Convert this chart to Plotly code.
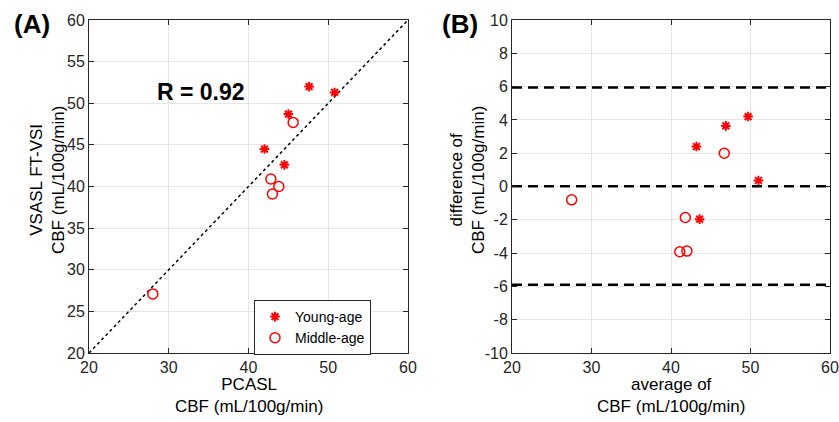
import plotly.graph_objects as go

# ---- data ----
young_pcasl = [47.6, 50.8, 45.0, 42.0, 44.5]
young_vsasl = [52.0, 51.3, 48.7, 44.5, 42.6]
middle_pcasl = [45.6, 42.8, 43.8, 43.0, 28.0]
middle_vsasl = [47.7, 40.9, 40.0, 39.1, 27.1]

young_avg = [49.7, 51.0, 46.9, 43.2, 43.6]
young_diff = [4.2, 0.36, 3.64, 2.4, -1.96]
middle_avg = [46.7, 41.8, 42.0, 41.1, 27.5]
middle_diff = [2.0, -1.86, -3.88, -3.92, -0.8]

identity_x = [20, 60]
limits_of_agreement = [5.95, 0.02, -5.9]
r_text = "R = 0.92"

x_ticks = [20, 30, 40, 50, 60]
yA_ticks = [20, 25, 30, 35, 40, 45, 50, 55, 60]
yB_ticks = [-10, -8, -6, -4, -2, 0, 2, 4, 6, 8, 10]
yB_ticktext = [str(v) for v in yB_ticks]  # ASCII hyphen, as in the reference

W, H = 839, 422
RED = "#FF0000"
AX = "#262626"
FONT = "Liberation Sans, Arial, Helvetica, sans-serif"

def px(x):
    return x / W

def py(y):
    return 1 - y / H

fig = go.Figure()

star = dict(symbol="asterisk-open", size=8, color=RED, line=dict(color=RED, width=2))
circ = dict(symbol="circle-open", size=10, color=RED, line=dict(color=RED, width=1.5))

# Panel A
fig.add_trace(go.Scatter(x=identity_x, y=identity_x, mode="lines",
                         line=dict(color="black", width=1.5, dash="dot"),
                         showlegend=False, xaxis="x", yaxis="y", hoverinfo="skip"))
fig.add_trace(go.Scatter(x=young_pcasl, y=young_vsasl, mode="markers", name="Young-age",
                         marker=star, xaxis="x", yaxis="y"))
fig.add_trace(go.Scatter(x=middle_pcasl, y=middle_vsasl, mode="markers", name="Middle-age",
                         marker=circ, xaxis="x", yaxis="y"))

# Panel B
for v in limits_of_agreement:
    fig.add_trace(go.Scatter(x=identity_x, y=[v, v], mode="lines",
                             line=dict(color="black", width=2.5, dash="10px,6px"),
                             showlegend=False, xaxis="x2", yaxis="y2", hoverinfo="skip"))
fig.add_trace(go.Scatter(x=young_avg, y=young_diff, mode="markers", name="Young-age",
                         marker=star, xaxis="x2", yaxis="y2", showlegend=False))
fig.add_trace(go.Scatter(x=middle_avg, y=middle_diff, mode="markers", name="Middle-age",
                         marker=circ, xaxis="x2", yaxis="y2", showlegend=False))

axis_common = dict(showline=True, linecolor=AX, linewidth=1, mirror="ticks",
                   ticks="inside", ticklen=5, tickcolor=AX, showgrid=True,
                   gridcolor="#E6E6E6", gridwidth=1, zeroline=False,
                   tickfont=dict(family=FONT, size=16, color=AX), automargin=False)

yd = [py(353), py(20)]
fig.update_layout(
    width=W, height=H,
    margin=dict(l=0, r=0, t=0, b=0),
    paper_bgcolor="white", plot_bgcolor="white",
    font=dict(family=FONT, color=AX),
    xaxis=dict(domain=[px(89), px(408)], range=[20, 60], tickvals=x_ticks,
               anchor="y", **axis_common),
    yaxis=dict(domain=yd, range=[20, 60], tickvals=yA_ticks,
               anchor="x", **axis_common),
    xaxis2=dict(domain=[px(512), px(830)], range=[20, 60], tickvals=x_ticks,
                anchor="y2", **axis_common),
    yaxis2=dict(domain=yd, range=[-10, 10], tickvals=yB_ticks, ticktext=yB_ticktext,
                anchor="x2", **axis_common),
    legend=dict(x=px(254), y=py(300), xanchor="left", yanchor="top",
                bgcolor="white", bordercolor=AX, borderwidth=1,
                font=dict(family=FONT, size=14, color="black"),
                tracegroupgap=0, itemwidth=30, entrywidth=110, entrywidthmode="pixels"),
    showlegend=True,
)

ann = []
title_font = dict(family=FONT, size=17, color="black")
# x titles
ann.append(dict(text="PCASL<br>CBF (mL/100g/min)", x=px(248.5), y=py(373), xref="paper", yref="paper",
                xanchor="center", yanchor="top", showarrow=False, font=title_font))
ann.append(dict(text="average of<br>CBF (mL/100g/min)", x=px(671), y=py(373), xref="paper", yref="paper",
                xanchor="center", yanchor="top", showarrow=False, font=title_font))
# y titles
ann.append(dict(text="VSASL FT-VSI<br>CBF (mL/100g/min)", x=px(48), y=py(180), xref="paper", yref="paper",
                xanchor="center", yanchor="middle", textangle=-90, showarrow=False, font=title_font))
ann.append(dict(text="difference of<br>CBF (mL/100g/min)", x=px(468), y=py(180), xref="paper", yref="paper",
                xanchor="center", yanchor="middle", textangle=-90, showarrow=False, font=title_font))
# panel labels
ann.append(dict(text="<b>(A)</b>", x=px(32), y=py(24), xref="paper", yref="paper",
                xanchor="center", yanchor="middle", showarrow=False,
                font=dict(family=FONT, size=26, color="black")))
ann.append(dict(text="<b>(B)</b>", x=px(460), y=py(24), xref="paper", yref="paper",
                xanchor="center", yanchor="middle", showarrow=False,
                font=dict(family=FONT, size=26, color="black")))
# R annotation
ann.append(dict(text="<b>" + r_text + "</b>", x=34, y=51.4, xref="x", yref="y",
                xanchor="center", yanchor="middle", showarrow=False,
                font=dict(family=FONT, size=23, color="black")))
fig.update_layout(annotations=ann)

fig.write_html("out.html", config={"displayModeBar": False},
               post_script="document.body.style.margin='0px';document.body.style.overflow='hidden';")
